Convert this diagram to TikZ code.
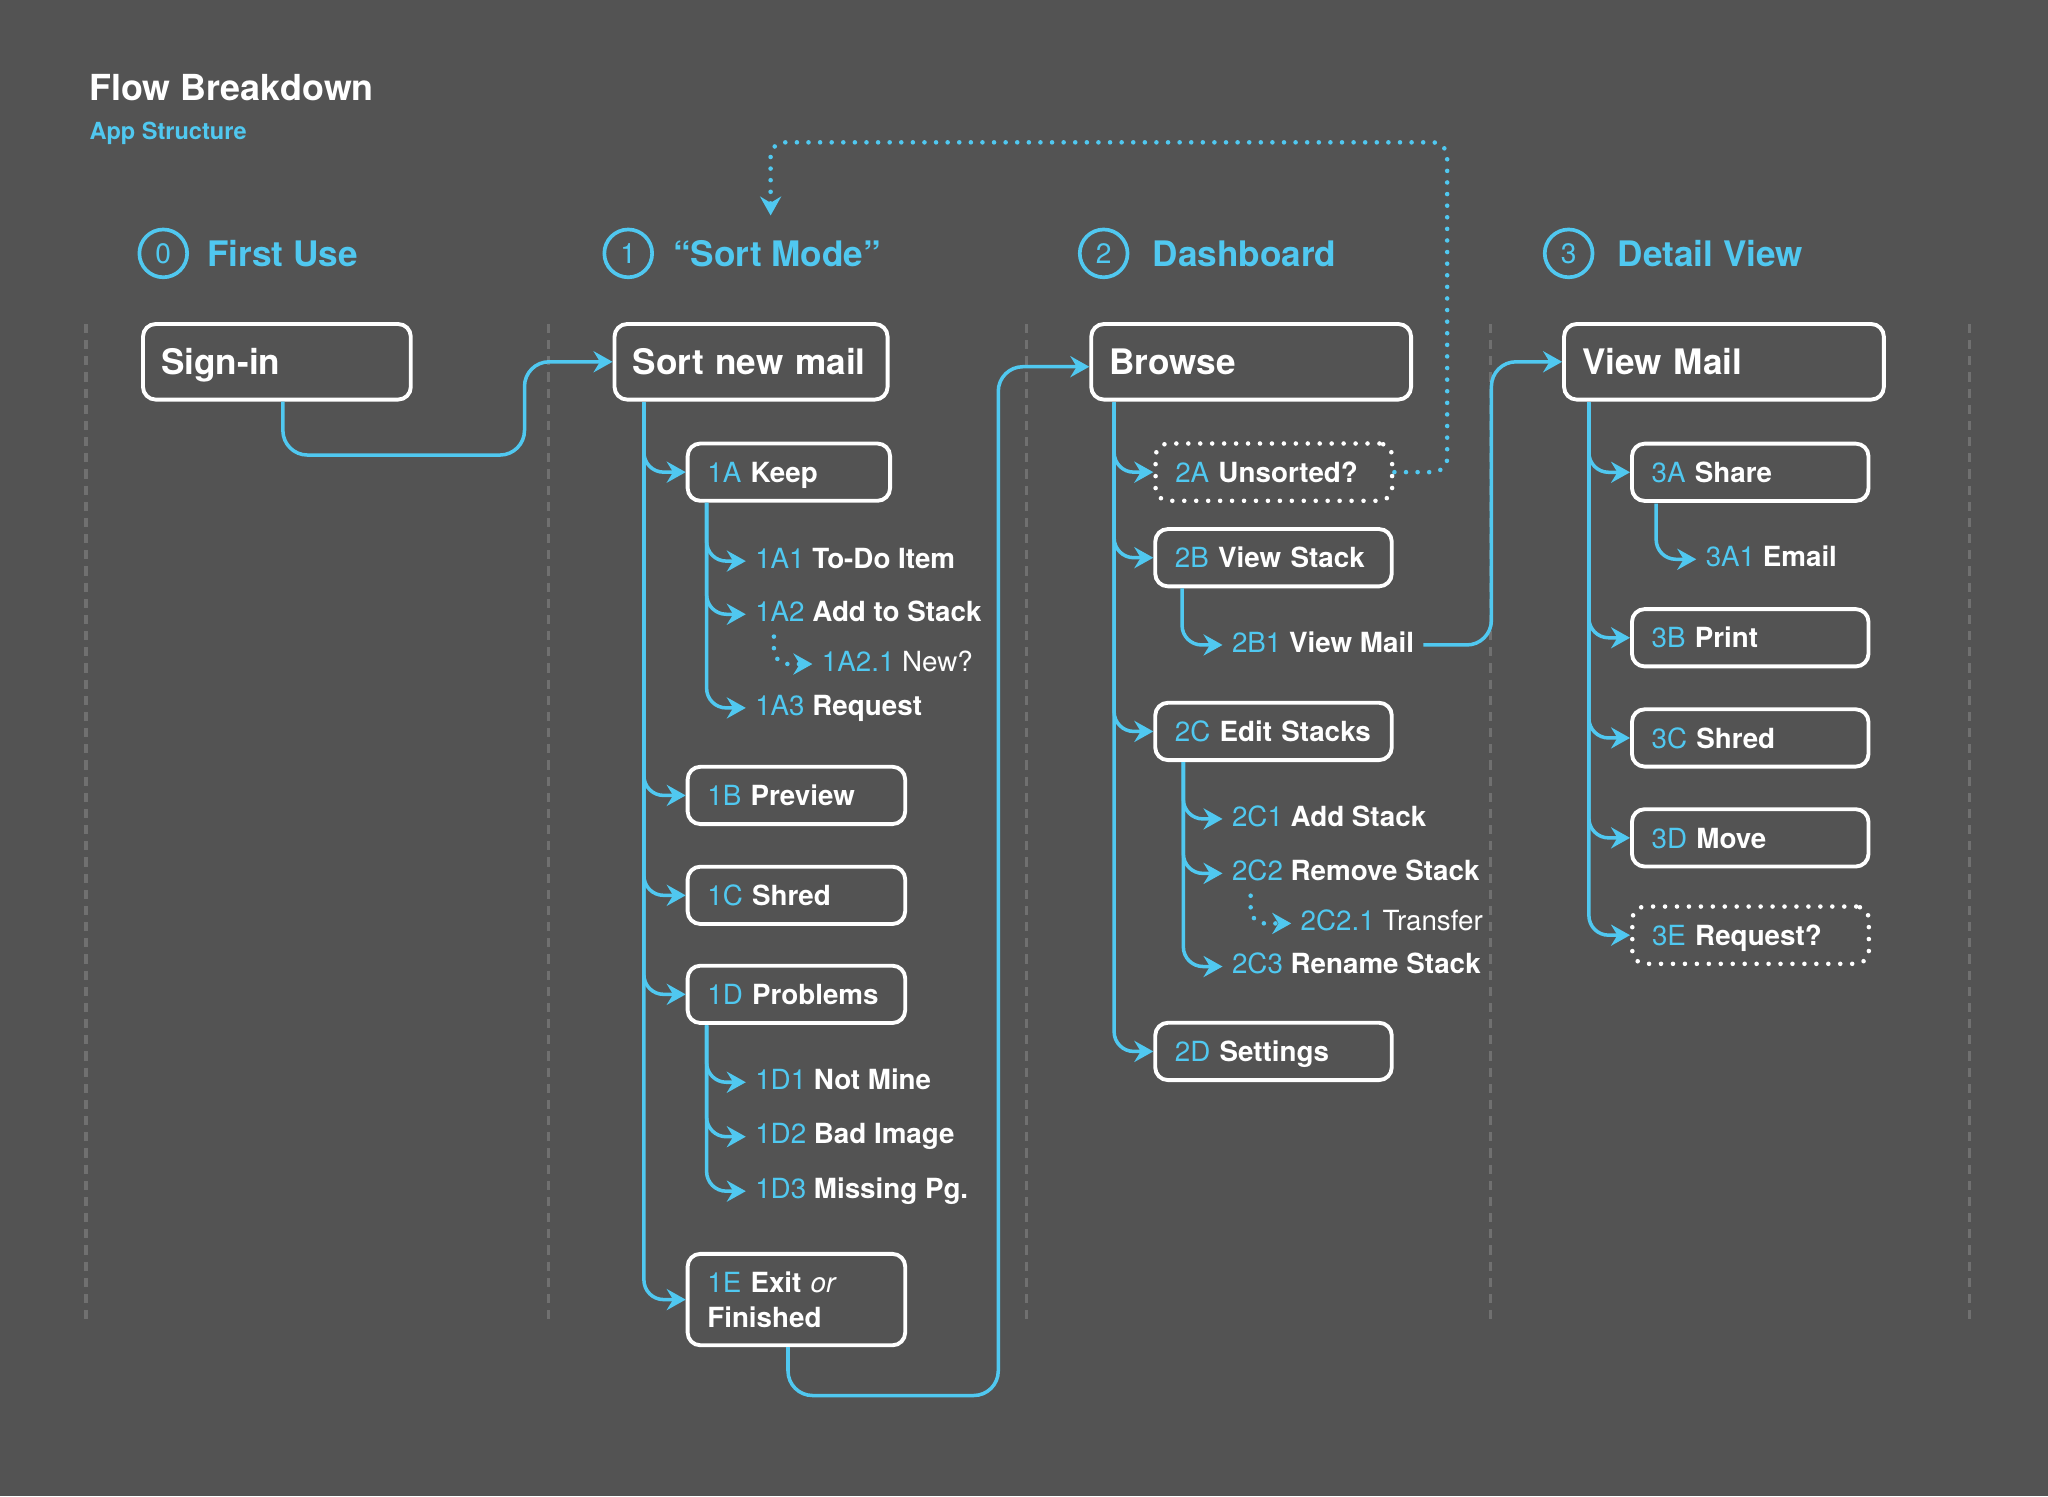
\documentclass[tikz,border=0pt]{standalone}
\usepackage{fontspec}
\setmainfont{TeX Gyre Heros}
\usetikzlibrary{arrows.meta,calc,positioning}
\definecolor{flowblue}{RGB}{80,200,240}
\definecolor{bggray}{RGB}{83,83,83}
\definecolor{sepgray}{RGB}{112,112,112}
\newcommand{\titlefs}{\fontsize{10.2}{12}\selectfont}
\newcommand{\headfs}{\fontsize{10}{12}\selectfont}
\newcommand{\mainfs}{\fontsize{10}{12}\selectfont}
\newcommand{\subfs}{\fontsize{7.9}{10}\selectfont}
\newcommand{\codetxt}[1]{{\color{flowblue}\mdseries #1}}
\tikzset{
    -{Stealth[length=5.4pt,width=6pt,inset=1.8pt]},
    flow/.style = {draw=flowblue, line width=1pt, rounded corners=5.6pt},
    branch/.style = {flow, to path={|- (\tikztotarget)}},
    hint/.style = {draw=flowblue, line width=1.3pt, line cap=round, dash pattern=on 0pt off 3.3pt, rounded corners=4pt},
    sep/.style = {-, draw=sepgray, line width=1pt, dash pattern=on 2.6pt off 2pt},
    mainbox/.style = {rectangle, draw=white, line width=1.1pt, rounded corners=3.6pt, text=white, anchor=west, align=left, inner xsep=5.2pt, inner ysep=0pt, minimum height=21.5pt, text height=7.4pt, text depth=0pt, font=\mainfs\bfseries},
    subbox/.style = {mainbox, inner xsep=5.6pt, minimum height=16.3pt, text height=5.8pt, font=\subfs\bfseries},
    dotbox/.style = {subbox, dash pattern=on 0pt off 3.4pt, line cap=round, line width=1.3pt},
    item/.style = {anchor=west, text=white, inner xsep=2.5pt, inner ysep=1pt, text height=5.7pt, text depth=1.6pt, font=\subfs\bfseries},
    num/.style = {circle, draw=flowblue, line width=1.05pt, minimum size=13.6pt, inner sep=0pt, text=flowblue, font=\fontsize{8}{9}\selectfont},
    head/.style = {anchor=base west, text=flowblue, inner sep=0pt, font=\headfs\bfseries}
}

\begin{document}
\begin{tikzpicture}[x=0.013061cm, y=-0.013061cm]
      \fill[bggray] (0,0) rectangle (1568,1145.4);
      \useasboundingbox (0,0) rectangle (1568,1145.4);

      \node[anchor=base west, inner sep=0pt, text=white, font=\titlefs\bfseries] (title) at (68,77) {Flow Breakdown};
      \node[anchor=base west, inner sep=0pt, text=flowblue, font=\fontsize{6.7}{8}\selectfont\bfseries] (subtitle) at (68,107) {App Structure};

      % column separators
      \draw[sep] (66,248) -- (66,1012);
      \draw[sep] (420,248) -- (420,1012);
      \draw[sep] (786,248) -- (786,1012);
      \draw[sep] (1141,248) -- (1141,1012);
      \draw[sep] (1508,248) -- (1508,1012);

      % headers
      \node[num] (h0) at (125,194) {0};
      \node[head] (n0) at (158,204) {First Use};
      \node[num] (h1) at (481,194) {1};
      \node[head] (n1) at (515,204) {“Sort Mode”};
      \node[num] (h2) at (845,194) {2};
      \node[head] (n2) at (882,204) {Dashboard};
      \node[num] (h3) at (1201,194) {3};
      \node[head] (n3) at (1238,204) {Detail View};

      % main boxes
      \node[mainbox, text width=65.8pt] (0) at (108,277) {Sign-in};
      \node[mainbox, text width=67.3pt] (1) at (469,277) {Sort new mail};
      \node[mainbox, text width=80.6pt] (2) at (834,277) {Browse};
      \node[mainbox, text width=80.6pt] (3) at (1196,277) {View Mail};

      % sort mode
      \node[subbox, text width=46.4pt] (1A) at (525,361.5) {\codetxt{1A} Keep};
      \node[item] (1A1) at (571,429.6) {\codetxt{1A1} To-Do Item};
      \node[item] (1A2) at (571,470.3) {\codetxt{1A2} Add to Stack};
      \node[item] (1A21) at (622,508.4) {\codetxt{1A2.1} {\mdseries New?}};
      \node[item] (1A3) at (571,542) {\codetxt{1A3} Request};
      \node[subbox, text width=50.7pt] (1B) at (525,609) {\codetxt{1B} Preview};
      \node[subbox, text width=50.7pt] (1C) at (525,685.5) {\codetxt{1C} Shred};
      \node[subbox, text width=50.7pt] (1D) at (525,761.3) {\codetxt{1D} Problems};
      \node[item] (1D1) at (571,828.6) {\codetxt{1D1} Not Mine};
      \node[item] (1D2) at (571,870.3) {\codetxt{1D2} Bad Image};
      \node[item] (1D3) at (571,912) {\codetxt{1D3} Missing Pg.};
      \node[subbox, text width=50.7pt, minimum height=26pt, text height=, text depth=] (1E) at (525,995) {\codetxt{1E} Exit {\mdseries\itshape or}\\Finished};

      % dashboard
      \node[dotbox, text width=56.1pt] (2A) at (883,361.5) {\codetxt{2A} Unsorted?};
      \node[subbox, text width=56.1pt] (2B) at (883,427) {\codetxt{2B} View Stack};
      \node[item] (2B1) at (936,493.8) {\codetxt{2B1} View Mail};
      \node[subbox, text width=56.1pt] (2C) at (883,560) {\codetxt{2C} Edit Stacks};
      \node[item] (2C1) at (936,627) {\codetxt{2C1} Add Stack};
      \node[item] (2C2) at (936,668.7) {\codetxt{2C2} Remove Stack};
      \node[item] (2C21) at (988.6,707) {\codetxt{2C2.1} {\mdseries Transfer}};
      \node[item] (2C3) at (936,740) {\codetxt{2C3} Rename Stack};
      \node[subbox, text width=56.1pt] (2D) at (883,805) {\codetxt{2D} Settings};

      % detail view
      \node[subbox, text width=56.1pt] (3A) at (1248,361.6) {\codetxt{3A} Share};
      \node[item] (3A1) at (1298.7,428.2) {\codetxt{3A1} Email};
      \node[subbox, text width=56.1pt] (3B) at (1248,488.3) {\codetxt{3B} Print};
      \node[subbox, text width=56.1pt] (3C) at (1248,565) {\codetxt{3C} Shred};
      \node[subbox, text width=56.1pt] (3D) at (1248,641.5) {\codetxt{3D} Move};
      \node[dotbox, text width=56.1pt] (3E) at (1248,716) {\codetxt{3E} Request?};

      % trunk tops
      \coordinate (t1) at (493,308);
      \coordinate (t1A) at (541,385);
      \coordinate (t1D) at (541,785);
      \coordinate (t2) at (853,308);
      \coordinate (t2B) at (905,450.5);
      \coordinate (t2C) at (906,583.5);
      \coordinate (t3) at (1216.5,308);
      \coordinate (t3A) at (1268,385.5);
      \coordinate (back) at (590,165);

      \path (t1) edge[branch] (1A);
      \path (t1) edge[branch] (1B);
      \path (t1) edge[branch] (1C);
      \path (t1) edge[branch] (1D);
      \path (t1) edge[branch] (1E);
      \path (t1A) edge[branch] (1A1);
      \path (t1A) edge[branch] (1A2);
      \path (t1A) edge[branch] (1A3);
      \path (t1D) edge[branch] (1D1);
      \path (t1D) edge[branch] (1D2);
      \path (t1D) edge[branch] (1D3);

      \path (t2) edge[branch] (2A);
      \path (t2) edge[branch] (2B);
      \path (t2) edge[branch] (2C);
      \path (t2) edge[branch] (2D);
      \path (t2B) edge[branch] (2B1);
      \path (t2C) edge[branch] (2C1);
      \path (t2C) edge[branch] (2C2);
      \path (t2C) edge[branch] (2C3);

      \path (t3) edge[branch] (3A);
      \path (t3) edge[branch] (3B);
      \path (t3) edge[branch] (3C);
      \path (t3) edge[branch] (3D);
      \path (t3) edge[branch] (3E);
      \path (t3A) edge[branch] (3A1);

      \draw[hint] ([xshift=8pt,yshift=-1.5pt]1A2.south west) |- (1A21);
      \draw[hint] ([xshift=8pt,yshift=-1.5pt]2C2.south west) |- (2C21);

      % between columns
      \draw[flow, rounded corners=7pt] ([xshift=1.7pt]0.south) -- ++(0,41) -- ++(185,0) |- (1);
      \draw[flow, rounded corners=7pt] ([xshift=-2.4pt]1E.south) -- ++(0,37) -- ++(161,0) |- ([yshift=-1.4pt]2.west);
      \draw[flow, rounded corners=7pt] (2B1.east) -- ++(52,0) |- (3);
      \draw[hint] (2A) -| (1108,109) -| (back);
\end{tikzpicture}
\end{document}
